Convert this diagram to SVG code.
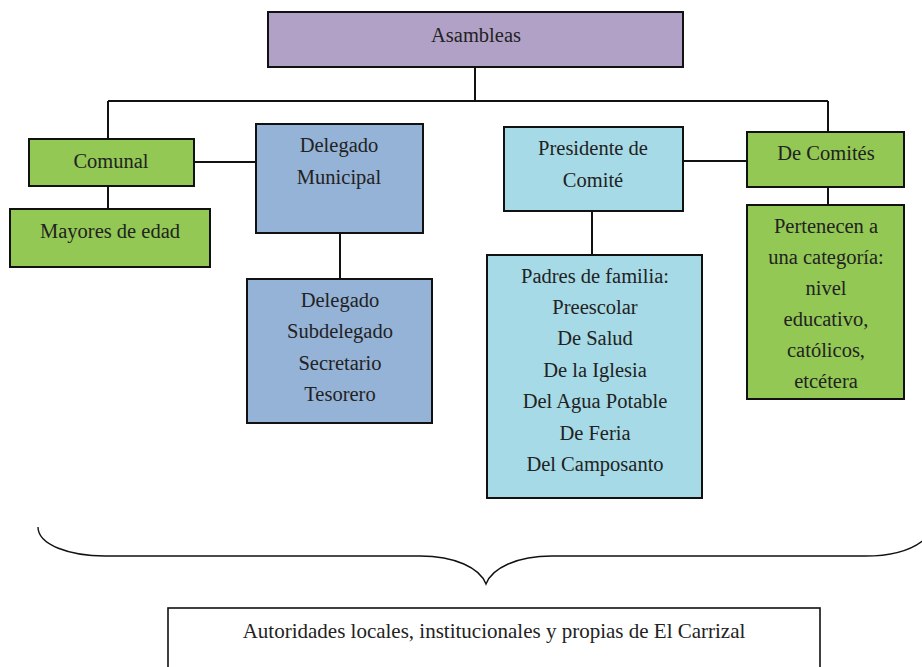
<svg xmlns="http://www.w3.org/2000/svg" width="922" height="667" viewBox="0 0 922 667">
<style>
.box{stroke:#111;stroke-width:2}
.t{font-family:'Liberation Serif','Times New Roman',Times,serif;font-size:20.5px;fill:#222;text-anchor:middle}
.ln{stroke:#111;stroke-width:2;fill:none}
</style>
<rect width="922" height="667" fill="#fff"/>
<g id="connectors">
<path class="ln" d="M475 67V101M108 101H828M108 101V139M828 101V132"/>
<path class="ln" d="M108 186V209"/>
<path class="ln" d="M194 162H256"/>
<path class="ln" d="M340 233V279"/>
<path class="ln" d="M592 211V255"/>
<path class="ln" d="M683 161H747"/>
<path class="ln" d="M828 187V205"/>
</g>
<g id="asambleas"><rect class="box" x="268" y="12" width="415" height="55" fill="#B2A1C7"/><text class="t" x="476" y="42">Asambleas</text></g>
<g id="comunal"><rect class="box" x="29" y="139" width="165" height="47" fill="#92C853"/><text class="t" x="111" y="168">Comunal</text></g>
<g id="mayores"><rect class="box" x="10" y="209" width="200" height="58" fill="#92C853"/><text class="t" x="110" y="238">Mayores de edad</text></g>
<g id="delegado-municipal"><rect class="box" x="256" y="124" width="167" height="109" fill="#95B3D7"/><text class="t" x="339" y="152">Delegado</text><text class="t" x="339" y="184">Municipal</text></g>
<g id="delegado-cargos"><rect class="box" x="247" y="279" width="185" height="144" fill="#95B3D7"/><text class="t" x="340" y="307">Delegado</text><text class="t" x="340" y="338">Subdelegado</text><text class="t" x="340" y="370">Secretario</text><text class="t" x="340" y="401">Tesorero</text></g>
<g id="presidente"><rect class="box" x="504" y="127" width="179" height="84" fill="#A6DAE6"/><text class="t" x="593" y="155">Presidente de</text><text class="t" x="593" y="187">Comité</text></g>
<g id="padres"><rect class="box" x="487" y="255" width="215" height="243" fill="#A6DAE6"/><text class="t" x="595" y="283">Padres de familia:</text><text class="t" x="595" y="314">Preescolar</text><text class="t" x="595" y="345">De Salud</text><text class="t" x="595" y="377">De la Iglesia</text><text class="t" x="595" y="408">Del Agua Potable</text><text class="t" x="595" y="440">De Feria</text><text class="t" x="595" y="471">Del Camposanto</text></g>
<g id="de-comites"><rect class="box" x="747" y="132" width="157" height="55" fill="#92C853"/><text class="t" x="826" y="160">De Comités</text></g>
<g id="pertenecen"><rect class="box" x="747" y="205" width="157" height="194" fill="#92C853"/><text class="t" x="826" y="233">Pertenecen a</text><text class="t" x="826" y="264">una categoría:</text><text class="t" x="826" y="295">nivel</text><text class="t" x="826" y="326">educativo,</text><text class="t" x="826" y="357">católicos,</text><text class="t" x="826" y="388">etcétera</text></g>
<g id="brace"><path d="M38 527C38 545 70 556 105 556H420C455 556 480 568 486 584C492 568 517 556 552 556H865C895 556 915 548 926 538" fill="none" stroke="#111" stroke-width="1.4"/></g>
<g id="autoridades"><rect x="168" y="608" width="652" height="70" fill="#fff" stroke="#111" stroke-width="1.6"/><text class="t" x="494" y="638" style="font-size:21px">Autoridades locales, institucionales y propias de El Carrizal</text></g>
</svg>
